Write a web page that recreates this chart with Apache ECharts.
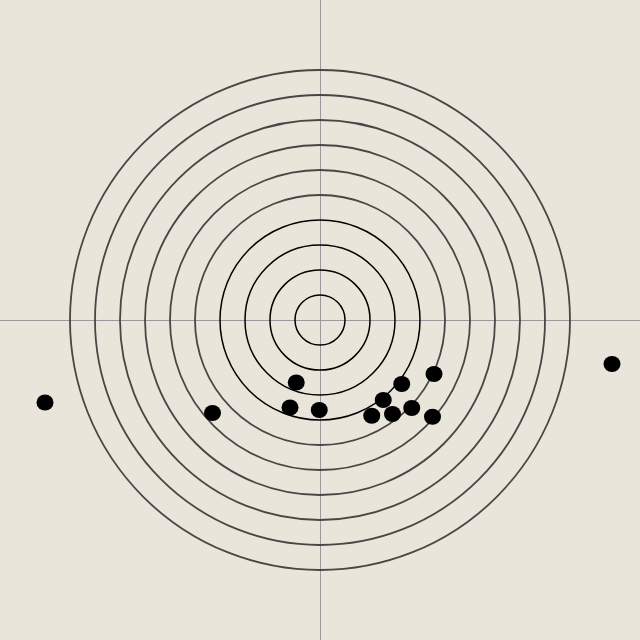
<!DOCTYPE html>
<html><head><meta charset="utf-8">
<script src="https://cdn.jsdelivr.net/npm/echarts@6/dist/echarts.min.js"></script>
<style>html,body{margin:0;padding:0;background:#e9e5da;}#c{width:640px;height:640px;}</style>
</head><body><div id="c"></div>
<script>
// Ring radii (in ring units)
const ringRadii = [1, 2, 3, 4, 5, 6, 7, 8, 9, 10];
// Shot positions (x, y) in ring units
const shotX = [-11.0, -4.3, -0.95, -1.2, -0.03, 2.07, 2.53, 2.9, 3.27, 3.67, 4.56, 4.5, 11.68];
const shotY = [-3.3, -3.72, -2.5, -3.5, -3.6, -3.83, -3.2, -3.76, -2.56, -3.52, -2.16, -3.87, -1.76];

const shots = shotX.map((x, i) => [x, shotY[i]]);
const chart = echarts.init(document.getElementById('c'), null, {renderer: 'canvas'});
chart.setOption({
  backgroundColor: '#e9e5da',
  animation: false,
  grid: {left: 0, right: 0, top: 0, bottom: 0},
  xAxis: {type: 'value', min: -12.8, max: 12.8,
    axisLine: {onZero: true, lineStyle: {color: '#9a9a9a', width: 1}},
    axisTick: {show: false}, axisLabel: {show: false}, splitLine: {show: false}},
  yAxis: {type: 'value', min: -12.8, max: 12.8,
    axisLine: {onZero: true, lineStyle: {color: '#9a9a9a', width: 1}},
    axisTick: {show: false}, axisLabel: {show: false}, splitLine: {show: false}},
  series: [
    {
      type: 'custom',
      data: ringRadii.map(r => [r]),
      renderItem: function (params, api) {
        const r = api.value(0);
        const c = api.coord([0, 0]);
        const rad = api.size([r, 0])[0];
        return {
          type: 'circle',
          shape: {cx: c[0], cy: c[1], r: rad},
          style: {fill: null, stroke: r <= 4 ? '#000' : '#474747', lineWidth: r <= 4 ? 1.5 : 1.8}
        };
      },
      silent: true, z: 2
    },
    {
      type: 'scatter',
      data: shots,
      symbol: 'circle',
      symbolSize: [17, 16],
      itemStyle: {color: '#000', opacity: 1},
      z: 3
    }
  ]
});
</script></body></html>
